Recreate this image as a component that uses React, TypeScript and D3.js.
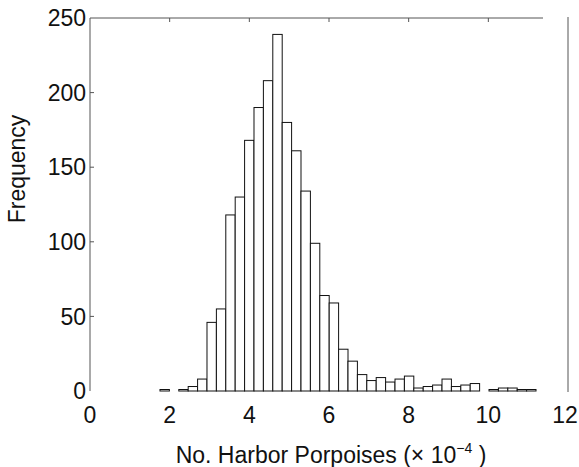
import React from "react";
import * as d3 from "d3";

const binStart = 1.757;
const binWidth = 0.236;
const counts = [
  1, 0, 1, 3, 8, 46, 55, 118, 130, 168,
  190, 208, 239, 180, 161, 134, 99, 64, 59, 28,
  20, 11, 7, 9, 6, 8, 10, 2, 3, 4,
  8, 3, 4, 5, 0, 1, 2, 2, 1, 1,
];
const xTicks = [0, 2, 4, 6, 8, 10, 12];
const yTicks = [0, 50, 100, 150, 200, 250];

const W = 579;
const H = 467;
const left = 90;
const right = 568;
const top = 18;
const bottom = 391;

export default function App() {
  const x = d3.scaleLinear().domain([0, 12]).range([left, right]);
  const y = d3.scaleLinear().domain([0, 250]).range([bottom, top]);
  const font = "'Liberation Sans', Arial, Helvetica, sans-serif";
  const fs = 23;
  const axisColor = "#555";
  return (
    <svg
      width={W}
      height={H}
      style={{ position: "absolute", left: 0, top: 0, background: "#fff" }}
      fontFamily={font}
    >
      <rect x={0} y={0} width={W} height={H} fill="#fff" />
      {/* frame */}
      <line x1={left} y1={top} x2={left} y2={bottom} stroke={axisColor} strokeWidth={1} />
      <line x1={left} y1={top} x2={543} y2={top} stroke={axisColor} strokeWidth={1} />
      <line x1={right} y1={top - 1} x2={right} y2={bottom + 1} stroke={axisColor} strokeWidth={1} />
      {/* y ticks */}
      {yTicks.map((t) => (
        <g key={"y" + t}>
          {t > 0 && t < 250 && (
            <line x1={left} x2={left + 4} y1={y(t)} y2={y(t)} stroke={axisColor} />
          )}
          <text x={left - 4} y={y(t)} dy="0.36em" textAnchor="end" fontSize={fs} fill="#111">
            {t}
          </text>
        </g>
      ))}
      {/* x ticks */}
      {xTicks.map((t) => (
        <g key={"x" + t}>
          {t > 0 && t < 12 && (
            <line x1={x(t)} x2={x(t)} y1={top} y2={top + 4} stroke={axisColor} />
          )}
          <text x={Math.min(x(t), W - 14)} y={423} textAnchor="middle" fontSize={fs} fill="#111">
            {t}
          </text>
        </g>
      ))}
      {/* bars */}
      {counts.map((c, i) => {
        const x0 = x(binStart + i * binWidth);
        const x1 = x(binStart + (i + 1) * binWidth);
        return (
          <rect
            key={"b" + i}
            x={x0}
            y={y(c)}
            width={x1 - x0}
            height={y(0) - y(c)}
            fill="#fff"
            stroke="#111"
            strokeWidth={1}
          />
        );
      })}
      {/* labels */}
      <text x={331} y={463} textAnchor="middle" fontSize={fs} fill="#111">
        No. Harbor Porpoises (× 10
        <tspan fontSize={14} dy={-10}>−4</tspan>
        <tspan dy={10}> )</tspan>
      </text>
      <text
        transform={`translate(25, 169) rotate(-90)`}
        textAnchor="middle"
        fontSize={fs}
        fill="#111"
      >
        Frequency
      </text>
    </svg>
  );
}
